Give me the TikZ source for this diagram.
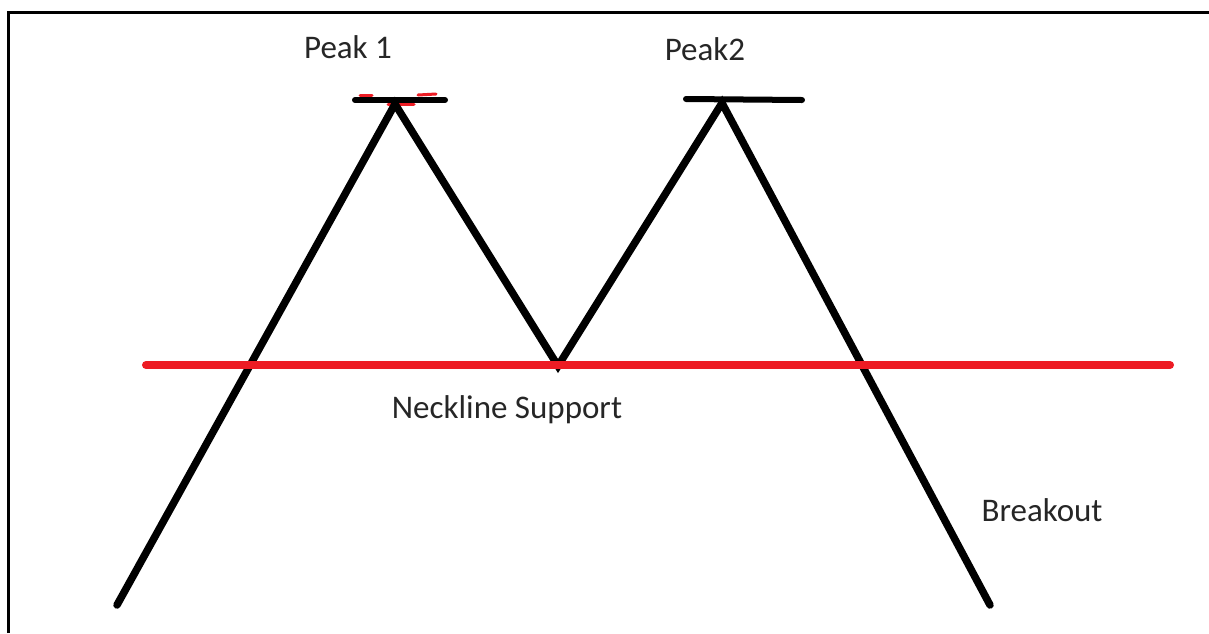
\documentclass[tikz,border=0pt]{standalone}
\usepackage{fontspec}
\setmainfont{Carlito}
\definecolor{paintred}{RGB}{237,28,36}
\begin{document}
\begin{tikzpicture}[x=1pt,y=-1pt,
  blackline/.style={line width=7.5pt,line cap=round,line join=miter,draw=black},
  redline/.style={line width=8pt,line cap=round,draw=paintred},
  label/.style={font=\fontsize{33}{35}\selectfont,text=black!85,inner sep=0pt,anchor=center}]
\useasboundingbox (0,0) rectangle (1209,633);
\fill[white] (0,0) rectangle (1209,633);
% frame
\draw[line width=3pt] (8,633) -- (8,12) -- (1209,12);
% points
\coordinate (b1) at (117,605);
\coordinate (p1) at (395,104);
\coordinate (tr) at (558,366);
\coordinate (p2) at (722,103);
\coordinate (b2) at (990,605);
\coordinate (n1) at (146,365);
\coordinate (n2) at (1170,365);
\coordinate (h1l) at (355,100);
\coordinate (h1r) at (445,100);
\coordinate (h2l) at (686,99);
\coordinate (h2r) at (802,100);
% red marks on peak 1
\draw[paintred,line width=3pt,line cap=round] (360,95) -- (372,95);
\draw[paintred,line width=3pt,line cap=round] (418,95) -- (436,94);
\draw[paintred,line width=3pt,line cap=round] (388,104) -- (414,104);
% peak bars
\draw[blackline,line width=6pt] (h1l) -- (h1r);
\draw[blackline,line width=6pt] (h2l) -- (h2r);
% zigzag
\draw[blackline] (b1) -- (p1) -- (tr) -- (p2) -- (b2);
% neckline
\draw[redline] (n1) -- (n2);
% labels
\node[label] (lp1) at (348,47) {Peak 1};
\node[label] (lp2) at (705,49) {Peak2};
\node[label] (lnk) at (507,410) {Neckline Support};
\node[label] (lbo) at (1042,510) {Breakout};
\end{tikzpicture}
\end{document}
